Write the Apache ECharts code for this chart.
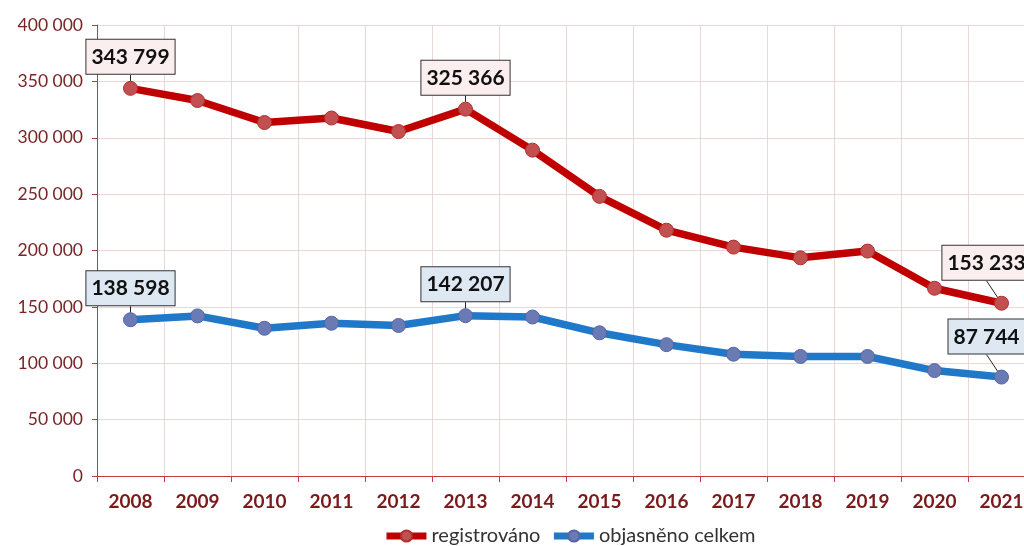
<!DOCTYPE html>
<html>
<head>
<meta charset="utf-8">
<script src="https://cdn.jsdelivr.net/npm/echarts@6/dist/echarts.min.js"></script>
<style>
  html, body { margin: 0; padding: 0; background: #fff; }
  #chart { width: 1024px; height: 546px; }
</style>
</head>
<body>
<div id="chart"></div>
<script>
var years = ['2008', '2009', '2010', '2011', '2012', '2013', '2014', '2015', '2016', '2017', '2018', '2019', '2020', '2021']
var registrovano = [343799, 333000, 313500, 317500, 305500, 325366, 289000, 248000, 218000, 203000, 193500, 199500, 166500, 153233]
var objasneno = [138598, 142000, 131000, 135500, 133500, 142207, 141000, 127000, 116500, 108000, 106000, 106000, 93500, 87744]
// indexes of the points that get a value box
var labelled = [0, 5, 13]

function fmt(v) {
  return String(v).replace(/\B(?=(\d{3})+(?!\d))/g, ' ')
}

function buildData(values, bg) {
  return values.map(function (v, i) {
    if (labelled.indexOf(i) < 0) return v
    return {
      value: v,
      label: {
        show: true,
        position: 'top',
        distance: 4,
        formatter: function (p) { return fmt(p.value) },
        fontFamily: 'Lato',
        fontWeight: 'bold',
        fontSize: 21,
        color: '#111',
        backgroundColor: bg,
        borderColor: '#333',
        borderWidth: 1,
        padding: [7, 5, 6, 5]
      },
      labelLine: { show: true, lineStyle: { color: '#222', width: 1 } }
    }
  })
}

// push boxes up a bit (the last ones also left) so the guide line shows
function moveBox(p) {
  if (labelled.indexOf(p.dataIndex) < 0) return {}
  if (p.dataIndex === years.length - 1) return { dx: -15, dy: -12 }
  return { dy: -3 }
}

var chart = echarts.init(document.getElementById('chart'))
chart.setOption({
  animation: false,
  grid: { left: 97, top: 25, width: 938, bottom: 70, outerBoundsMode: 'none', containLabel: false },
  legend: {
    top: 521,
    left: 378,
    itemWidth: 40,
    itemHeight: 14,
    itemGap: 10,
    lineStyle: { width: 7 },
    textStyle: { fontFamily: 'Lato', fontSize: 20, color: '#333' },
    data: ['registrováno', 'objasněno celkem']
  },
  xAxis: {
    type: 'category',
    data: years,
    boundaryGap: true,
    axisLine: { lineStyle: { color: '#c0393b', width: 1 } },
    axisTick: { show: true, length: 6, lineStyle: { color: '#c0393b' } },
    axisLabel: { fontFamily: 'Lato', fontWeight: 'bold', fontSize: 19, color: '#7a1a1a', margin: 16 },
    splitLine: { show: true, lineStyle: { color: '#ead8d8' } }
  },
  yAxis: {
    type: 'value',
    min: 0,
    max: 400000,
    interval: 50000,
    axisLine: { show: true, lineStyle: { color: '#c0393b' } },
    axisTick: { show: true, length: 5, lineStyle: { color: '#c0393b' } },
    axisLabel: {
      fontFamily: 'Lato', fontSize: 17.5, color: '#7a2525', margin: 14,
      formatter: function (v) { return fmt(v) }
    },
    splitLine: { lineStyle: { color: '#ead8d8' } }
  },
  series: [
    {
      name: 'registrováno',
      type: 'line',
      data: buildData(registrovano, '#fbeeee'),
      symbol: 'circle',
      symbolSize: 14,
      lineStyle: { color: '#c00000', width: 7.5 },
      itemStyle: { color: '#c25050', borderColor: '#b03030', borderWidth: 1 },
      labelLayout: moveBox,
      z: 3
    },
    {
      name: 'objasněno celkem',
      type: 'line',
      data: buildData(objasneno, '#dde8f3'),
      symbol: 'circle',
      symbolSize: 14,
      lineStyle: { color: '#1f78c8', width: 7.5 },
      itemStyle: { color: '#6a7ab4', borderColor: '#5565a5', borderWidth: 1 },
      labelLayout: moveBox,
      z: 2
    }
  ]
})
</script>
</body>
</html>
